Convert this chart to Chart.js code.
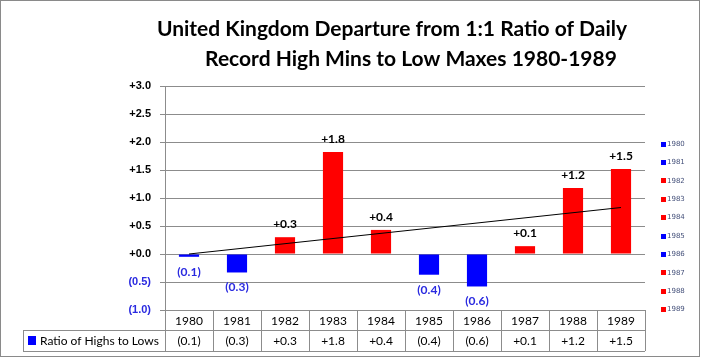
<!DOCTYPE html>
<html>
<head>
<meta charset="utf-8">
<script src="https://cdn.jsdelivr.net/npm/chart.js@4.4.0/dist/chart.umd.min.js"></script>
<style>
  html, body { margin: 0; padding: 0; background: #fff; }
  #wrap { width: 701px; height: 359px; }
</style>
</head>
<body>
<div id="wrap"><canvas id="ratioChart" width="701" height="359"></canvas></div>
<script>
// chart data
const years = ['1980', '1981', '1982', '1983', '1984', '1985', '1986', '1987', '1988', '1989'];
const departures = [-0.05, -0.33, 0.30, 1.82, 0.43, -0.37, -0.58, 0.14, 1.18, 1.52];
const valueLabels = ['(0.1)', '(0.3)', '+0.3', '+1.8', '+0.4', '(0.4)', '(0.6)', '+0.1', '+1.2', '+1.5'];
const trendEnds = [0.0, 0.83]; // trend line at 1980 and 1989
const yTicks = [3.0, 2.5, 2.0, 1.5, 1.0, 0.5, 0.0, -0.5, -1.0];
const titleLines = ['United Kingdom Departure from 1:1 Ratio of Daily', 'Record High Mins to Low Maxes 1980-1989'];
const seriesName = 'Ratio of Highs to Lows';

const BLUE = '#0000FF';
const RED = '#FF0000';
const LABEL_BLUE = '#2a2ae0';
const GRID = '#8c8c8c';

const barColors = departures.map(v => v < 0 ? BLUE : RED);

function fmtTick(v) {
    if (v < 0) return '(' + Math.abs(v).toFixed(1) + ')';
    return '+' + v.toFixed(1);
}

// title, value labels, data table, legend and border
const decorPlugin = {
    id: 'decor',
    afterDatasetsDraw(chart) {
        const ctx = chart.ctx;
        const x = chart.scales.x;
        const y = chart.scales.y;
        const area = chart.chartArea;
        const meta = chart.getDatasetMeta(0);

        ctx.save();

        // title
        ctx.fillStyle = '#000';
        ctx.textBaseline = 'alphabetic';
        ctx.textAlign = 'center';
        ctx.font = 'bold 21px Lato';
        ctx.fillText(titleLines[0], 392, 36);
        ctx.fillText(titleLines[1], 411, 66);

        // value labels
        ctx.font = 'bold 12px Lato';
        ctx.textBaseline = 'middle';
        meta.data.forEach((bar, i) => {
            const v = departures[i];
            if (v < 0) {
                ctx.fillStyle = LABEL_BLUE;
                ctx.fillText(valueLabels[i], bar.x, bar.y + 15);
            } else {
                ctx.fillStyle = '#000';
                ctx.fillText(valueLabels[i], bar.x, bar.y - 13);
            }
        });

        // data table under the plot
        const colW = (area.right - area.left) / years.length;
        const top = area.bottom;
        const mid = top + 20;
        const bot = mid + 21;
        const legLeft = 23;
        ctx.strokeStyle = GRID;
        ctx.lineWidth = 1;
        ctx.beginPath();
        ctx.moveTo(area.left, top + 0.5); ctx.lineTo(area.right, top + 0.5);
        ctx.moveTo(legLeft, mid + 0.5); ctx.lineTo(area.right, mid + 0.5);
        ctx.moveTo(legLeft, bot + 0.5); ctx.lineTo(area.right, bot + 0.5);
        ctx.moveTo(legLeft + 0.5, mid); ctx.lineTo(legLeft + 0.5, bot);
        for (let i = 0; i <= years.length; i++) {
            const cx = Math.round(area.left + i * colW) + 0.5;
            ctx.moveTo(cx, top); ctx.lineTo(cx, bot);
        }
        ctx.stroke();

        ctx.fillStyle = '#000';
        ctx.font = '12px Lato';
        years.forEach((yr, i) => {
            const cx = x.getPixelForValue(i);
            ctx.fillText(yr, cx, top + 11);
            ctx.fillText(valueLabels[i], cx, mid + 11);
        });
        ctx.fillStyle = BLUE;
        ctx.fillRect(28, mid + 6, 8, 9);
        ctx.fillStyle = '#000';
        ctx.textAlign = 'left';
        ctx.fillText(seriesName, 40, mid + 11);

        // per-year legend on the right
        ctx.font = '7px "DejaVu Sans"';
        years.forEach((yr, i) => {
            const ly = 143.7 + i * 18.37;
            ctx.fillStyle = barColors[i];
            ctx.fillRect(661, Math.round(ly) - 2, 5, 5);
            ctx.fillStyle = '#44507a';
            ctx.fillText(yr, 667, ly + 0.5);
        });

        // outer border
        ctx.strokeStyle = '#8a8a8a';
        ctx.strokeRect(0.5, 0.5, 699, 356);

        ctx.restore();
    }
};

const ctx = document.getElementById('ratioChart').getContext('2d');
new Chart(ctx, {
    data: {
        labels: years,
        datasets: [
            {
                type: 'bar',
                label: seriesName,
                data: departures,
                backgroundColor: barColors,
                barPercentage: 0.84,
                categoryPercentage: 0.5,
                order: 2
            },
            {
                type: 'line',
                label: 'Trend',
                data: [{ x: years[0], y: trendEnds[0] }, { x: years[years.length - 1], y: trendEnds[1] }],
                borderColor: '#000',
                borderWidth: 1,
                pointRadius: 0,
                fill: false,
                order: 1
            }
        ]
    },
    options: {
        responsive: false,
        animation: false,
        layout: { padding: { top: 86, right: 56, bottom: 49, left: 0 } },
        plugins: {
            legend: { display: false },
            title: { display: false },
            tooltip: { enabled: false }
        },
        scales: {
            x: {
                display: false,
                offset: true
            },
            y: {
                min: -1.0,
                max: 3.0,
                afterFit(scale) { scale.width = 165; },
                afterBuildTicks(scale) { scale.ticks = yTicks.map(v => ({ value: v })); },
                border: { display: true, color: GRID, width: 1 },
                grid: { color: GRID, lineWidth: 1, drawTicks: true, tickLength: 5 },
                ticks: {
                    padding: 9,
                    font: { family: 'Liberation Sans', size: 11, weight: 'bold' },
                    color: ctx => ctx.tick.value < 0 ? LABEL_BLUE : '#000',
                    callback: v => fmtTick(v)
                }
            }
        }
    },
    plugins: [decorPlugin]
});
</script>
</body>
</html>
